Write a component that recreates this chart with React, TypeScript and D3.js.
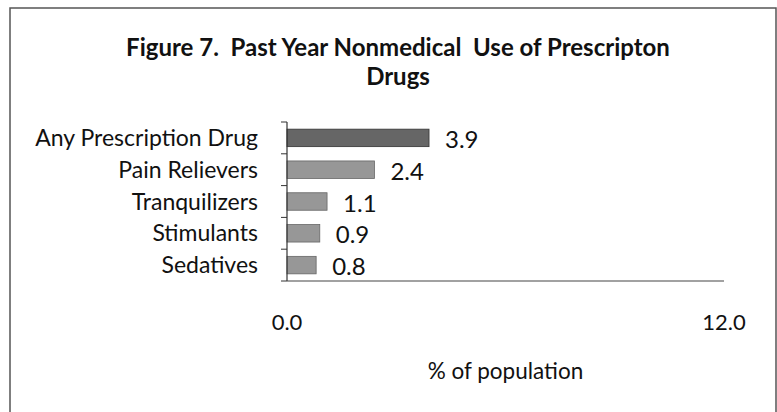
import React from "react";
import * as d3 from "d3";

const categories = ["Any Prescription Drug", "Pain Relievers", "Tranquilizers", "Stimulants", "Sedatives"];
const values = [3.9, 2.4, 1.1, 0.9, 0.8];
const xTicks = [0, 12];
const titleLines = ["Figure 7.  Past Year Nonmedical  Use of Prescripton", "Drugs"];
const axisTitle = "% of population";

const FONT = "Lato, 'Open Sans', sans-serif";

export default function App() {
  const W = 777, H = 412;
  const x = d3.scaleLinear().domain([0, 12]).range([287, 724]);
  const y = d3.scaleBand<string>().domain(categories).range([122, 281]).paddingInner(0.45).paddingOuter(0.225);
  const step = y.step();
  const bw = y.bandwidth();
  const gap = (step - bw) / 2;
  const boundaries = categories.map((c) => (y(c) as number) - gap).concat([281]);

  return (
    <svg width={W} height={H} style={{ position: "absolute", left: 0, top: 0 }} fontFamily={FONT}>
      <rect x={0} y={0} width={W} height={H} fill="#fff" />
      <rect x={10} y={8} width={766} height={420} fill="none" stroke="#555" strokeWidth={1.5} />
      <g textAnchor="middle" fontWeight="bold" fontSize={24} fill="#111">
        {titleLines.map((t, i) => (
          <text key={i} x={398} y={56 + i * 29} style={{ whiteSpace: "pre" }}>{t}</text>
        ))}
      </g>
      {categories.map((c, i) => (
        <g key={c}>
          <rect
            x={x(0)}
            y={y(c) as number}
            width={x(values[i]) - x(0)}
            height={bw}
            fill={i === 0 ? "#666" : "#979797"}
            stroke={i === 0 ? "#333" : "#666"}
            strokeWidth={0.8}
          />
          <text x={258} y={(y(c) as number) + bw / 2 + 8} textAnchor="end" fontSize={23} fill="#111">{c}</text>
          <text x={x(values[i]) + 16} y={(y(c) as number) + bw / 2 + 10} fontSize={24} fill="#111">{values[i].toFixed(1)}</text>
        </g>
      ))}
      <line x1={x(0)} x2={x(0)} y1={122} y2={281} stroke="#333" strokeWidth={1.2} />
      {boundaries.map((b, i) => (
        <line key={i} x1={x(0) - 6} x2={x(0)} y1={b} y2={b} stroke="#333" strokeWidth={1} />
      ))}
      <line x1={x(0)} x2={724} y1={281} y2={281} stroke="#444" strokeWidth={1.2} />
      {xTicks.map((t) => (
        <text key={t} x={x(t)} y={330} textAnchor="middle" fontSize={22} fill="#111">{t.toFixed(1)}</text>
      ))}
      <text x={(x(0) + x(12)) / 2} y={379} textAnchor="middle" fontSize={22.5} fill="#111">{axisTitle}</text>
    </svg>
  );
}
